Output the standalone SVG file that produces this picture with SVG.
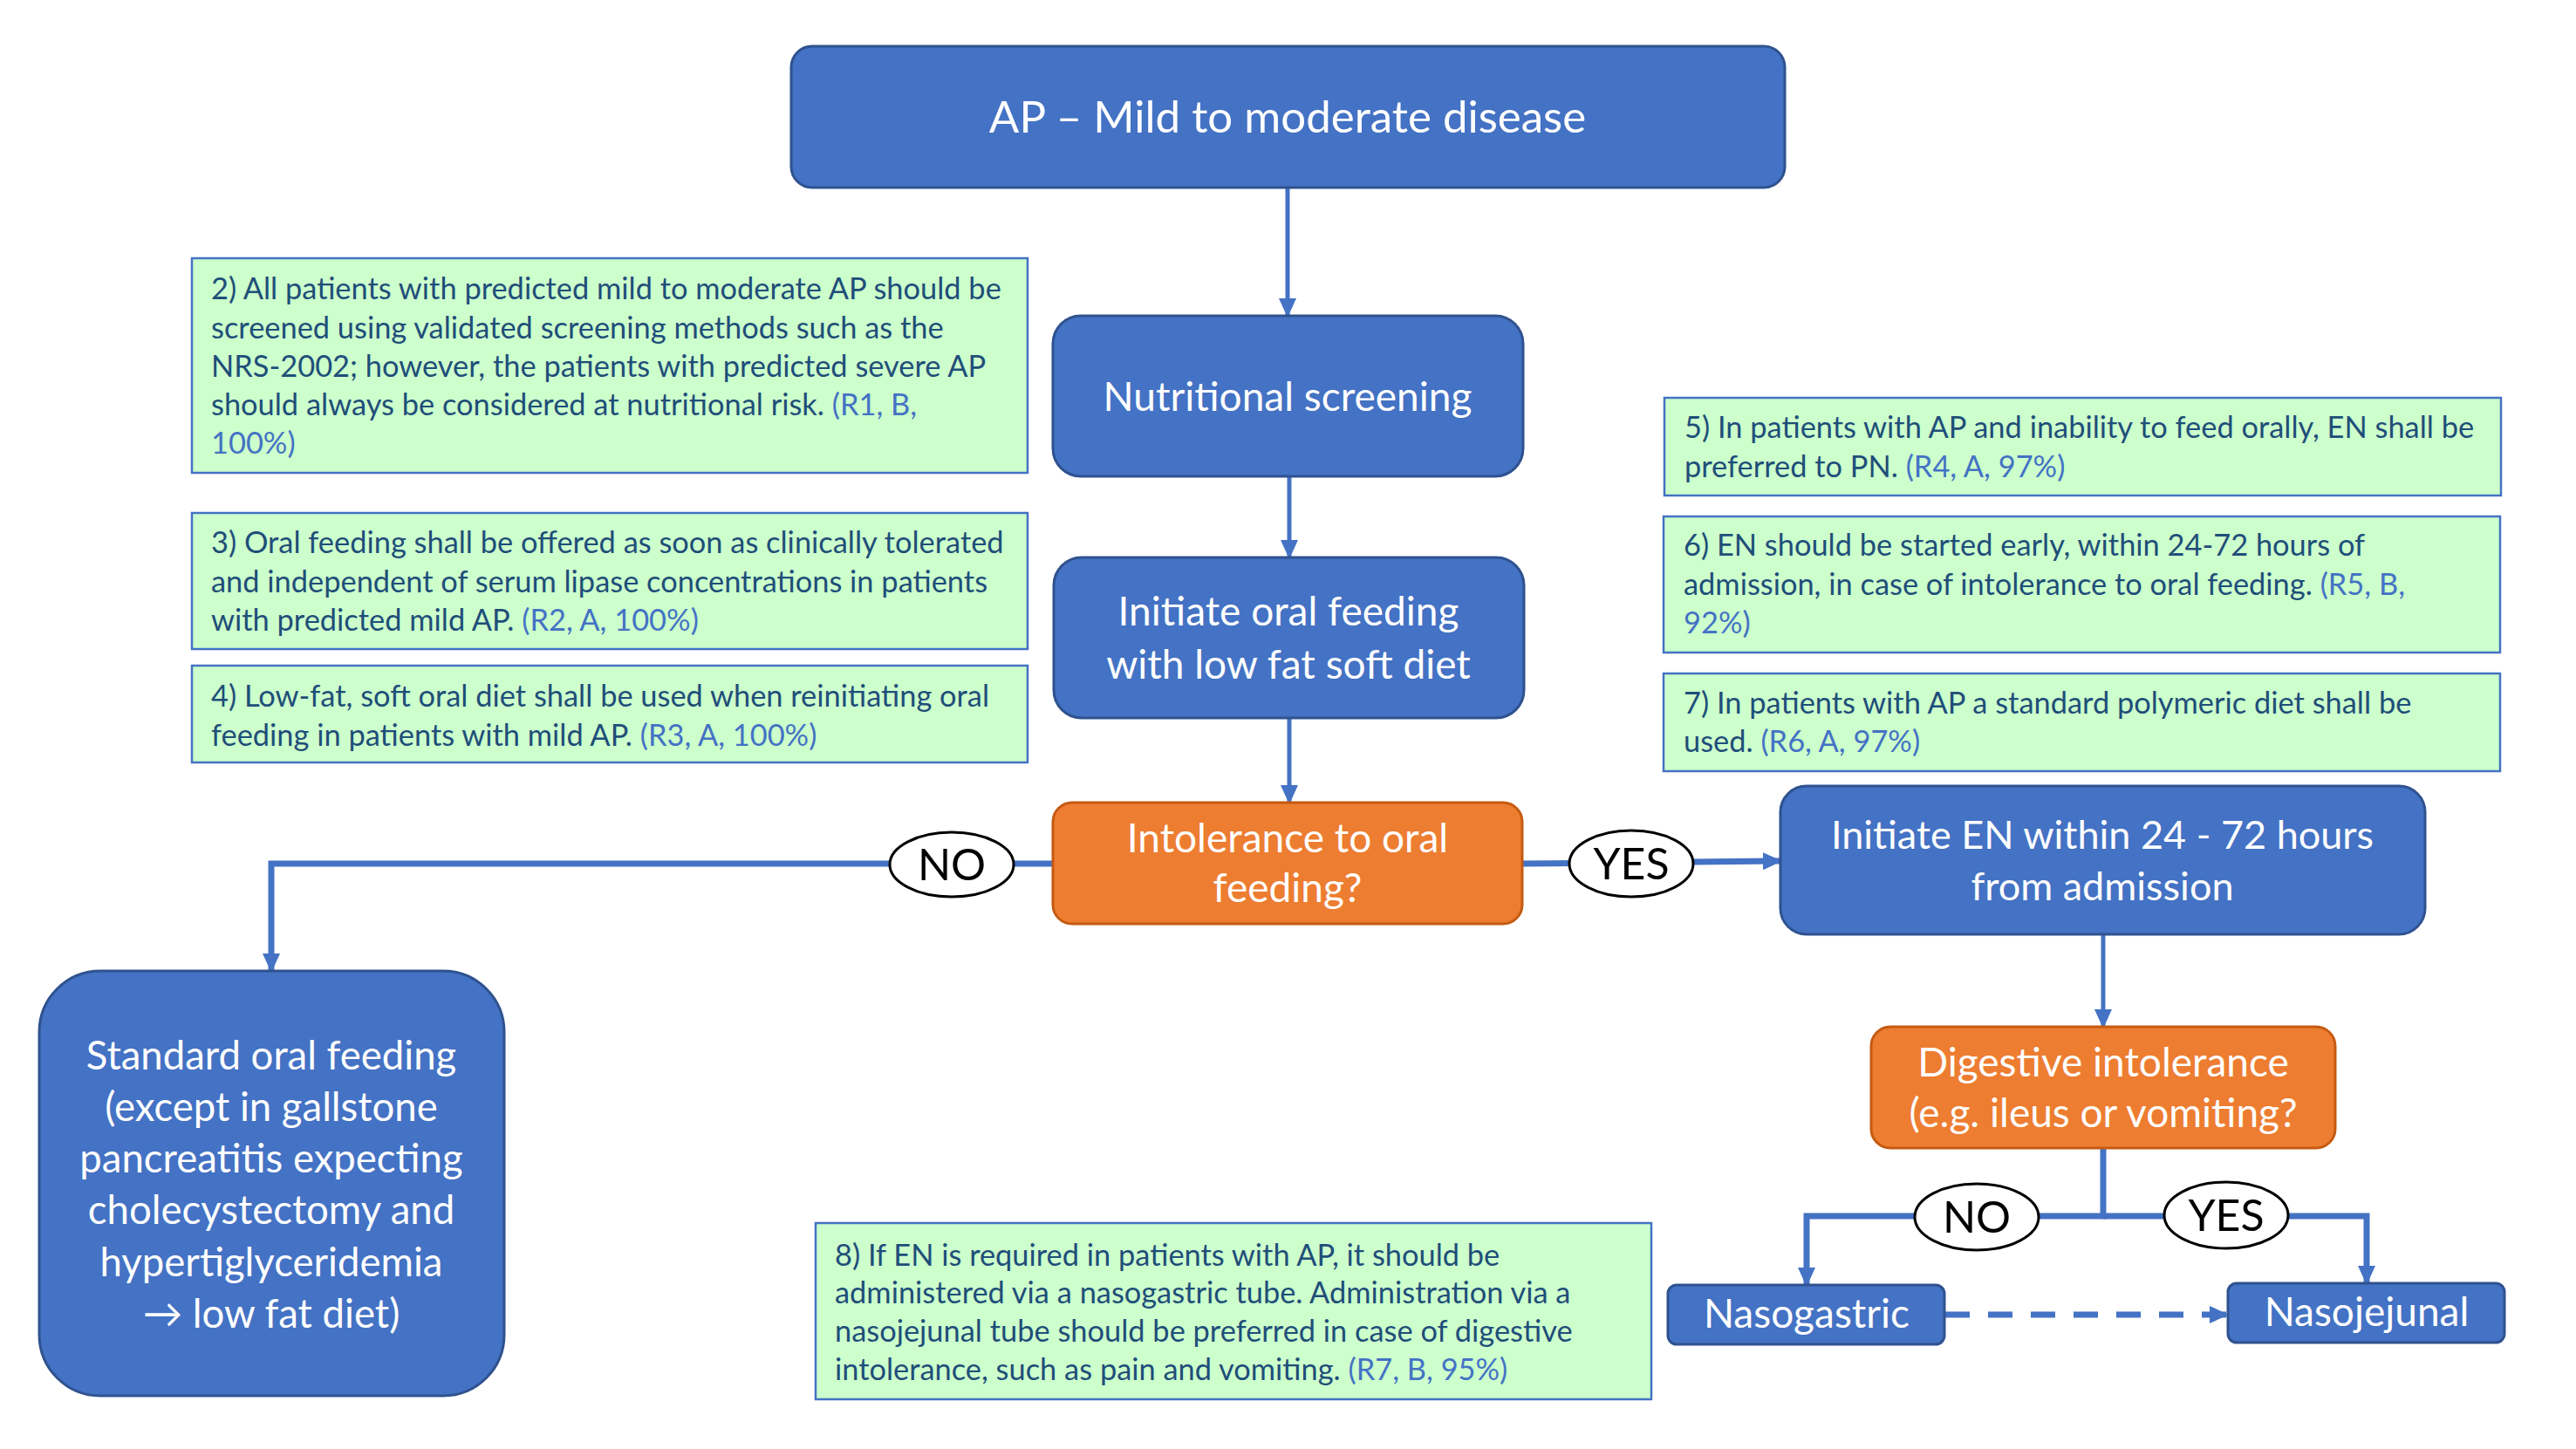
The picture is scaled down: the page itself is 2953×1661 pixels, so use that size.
<svg xmlns="http://www.w3.org/2000/svg" width="2953" height="1661" viewBox="0 0 2953 1661">
<style>
text{font-family:Lato,"Open Sans",sans-serif}
.blue{fill:#4472C4;stroke:#2F528F;stroke-width:3}
.orange{fill:#ED7D31;stroke:#C55A11;stroke-width:3}
.note{fill:#CCFFCC;stroke:#4472C4;stroke-width:2.5}
.bt{fill:#FFFFFF;font-size:46px;text-anchor:middle}
.ht{fill:#FFFFFF;font-size:51px;text-anchor:middle}
.nt{fill:#1F4E79;font-size:34.4px}
.ref{fill:#4472C4}
.lbl{fill:#FFFFFF;stroke:#000000;stroke-width:3}
.lt{fill:#000000;font-size:50px;text-anchor:middle}
.c{fill:none;stroke:#4472C4;stroke-width:7}
.cv{fill:none;stroke:#4472C4;stroke-width:5}
</style>
<defs>
<marker id="ah" markerUnits="userSpaceOnUse" markerWidth="22" markerHeight="22" viewBox="0 0 22 22" refX="20" refY="11" orient="auto">
<path d="M0,1 L22,11 L0,21 Z" fill="#4472C4"/>
</marker>
</defs>
<rect width="2953" height="1661" fill="#FFFFFF"/>

<g id="connectors">
<path class="cv" d="M1476,215 V362" marker-end="url(#ah)"/>
<path class="cv" d="M1478,546 V639" marker-end="url(#ah)"/>
<path class="cv" d="M1478,823 V920" marker-end="url(#ah)"/>
<path class="c" d="M1207,990 H311 V1113" marker-end="url(#ah)"/>
<path class="c" d="M1745,990 L2041,987" marker-end="url(#ah)"/>
<path class="cv" d="M2411,1071 V1177" marker-end="url(#ah)"/>
<path class="c" d="M2411,1316 V1394 H2071 V1473" marker-end="url(#ah)"/>
<path class="c" d="M2411,1394 H2713 V1471" marker-end="url(#ah)"/>
<path class="c" d="M2230,1507 H2553" stroke-dasharray="28 21" marker-end="url(#ah)"/>
</g>

<g id="n-header">
<rect class="blue" x="907" y="53" width="1139" height="162" rx="24"/>
<text class="ht" x="1476" y="152">AP – Mild to moderate disease</text>
</g>

<g id="n-screening">
<rect class="blue" x="1207" y="362" width="539" height="184" rx="32"/>
<text class="bt" x="1476" y="471">Nutritional screening</text>
</g>

<g id="n-oral">
<rect class="blue" x="1208" y="639" width="539" height="184" rx="32"/>
<text class="bt" x="1477" y="717">Initiate oral feeding</text>
<text class="bt" x="1477" y="778">with low fat soft diet</text>
</g>

<g id="n-intolerance">
<rect class="orange" x="1207" y="920" width="538" height="139" rx="22"/>
<text class="bt" x="1476" y="977">Intolerance to oral</text>
<text class="bt" x="1476" y="1034">feeding?</text>
</g>

<g id="n-standard">
<rect class="blue" x="45" y="1113" width="533" height="487" rx="70"/>
<text class="bt" x="311" y="1226" style="font-size:45.5px">Standard oral feeding</text>
<text class="bt" x="311" y="1285" style="font-size:45.5px">(except in gallstone</text>
<text class="bt" x="311" y="1344" style="font-size:45.5px">pancreatitis expecting</text>
<text class="bt" x="311" y="1403" style="font-size:45.5px">cholecystectomy and</text>
<text class="bt" x="311" y="1463" style="font-size:45.5px">hypertiglyceridemia</text>
<text class="bt" x="311" y="1522" style="font-size:45.5px">→ low fat diet)</text>
</g>

<g id="n-en">
<rect class="blue" x="2041" y="901" width="739" height="170" rx="30"/>
<text class="bt" x="2410" y="973" style="font-size:45px">Initiate EN within 24 - 72 hours</text>
<text class="bt" x="2410" y="1032" style="font-size:45px">from admission</text>
</g>

<g id="n-digestive">
<rect class="orange" x="2145" y="1177" width="532" height="139" rx="22"/>
<text class="bt" x="2411" y="1234">Digestive intolerance</text>
<text class="bt" x="2411" y="1292">(e.g. ileus or vomiting?</text>
</g>

<g id="n-nasogastric">
<rect class="blue" x="1912" y="1473" width="317" height="68" rx="10"/>
<text class="bt" x="2071" y="1522">Nasogastric</text>
</g>

<g id="n-nasojejunal">
<rect class="blue" x="2554" y="1471" width="317" height="68" rx="10"/>
<text class="bt" x="2713" y="1520">Nasojejunal</text>
</g>

<g id="l-no1">
<ellipse class="lbl" cx="1091" cy="991" rx="71" ry="37"/>
<text class="lt" x="1091" y="1009">NO</text>
</g>
<g id="l-yes1">
<ellipse class="lbl" cx="1870" cy="990" rx="71" ry="38"/>
<text class="lt" x="1870" y="1008">YES</text>
</g>
<g id="l-no2">
<ellipse class="lbl" cx="2266" cy="1395" rx="71" ry="38"/>
<text class="lt" x="2266" y="1413">NO</text>
</g>
<g id="l-yes2">
<ellipse class="lbl" cx="2552" cy="1393" rx="71" ry="38"/>
<text class="lt" x="2552" y="1411">YES</text>
</g>

<g id="note2">
<rect class="note" x="220" y="296" width="958" height="246"/>
<text class="nt" x="242" y="343">2) All patients with predicted mild to moderate AP should be</text>
<text class="nt" x="242" y="388">screened using validated screening methods such as the</text>
<text class="nt" x="242" y="432">NRS-2002; however, the patients with predicted severe AP</text>
<text class="nt" x="242" y="476">should always be considered at nutritional risk. <tspan class="ref">(R1, B,</tspan></text>
<text class="nt ref" x="242" y="520">100%)</text>
</g>

<g id="note3">
<rect class="note" x="220" y="588" width="958" height="156"/>
<text class="nt" x="242" y="634">3) Oral feeding shall be offered as soon as clinically tolerated</text>
<text class="nt" x="242" y="679">and independent of serum lipase concentrations in patients</text>
<text class="nt" x="242" y="723">with predicted mild AP. <tspan class="ref">(R2, A, 100%)</tspan></text>
</g>

<g id="note4">
<rect class="note" x="220" y="763" width="958" height="111"/>
<text class="nt" x="242" y="810">4) Low-fat, soft oral diet shall be used when reinitiating oral</text>
<text class="nt" x="242" y="855">feeding in patients with mild AP. <tspan class="ref">(R3, A, 100%)</tspan></text>
</g>

<g id="note5">
<rect class="note" x="1908" y="456" width="959" height="112"/>
<text class="nt" x="1931" y="502">5) In patients with AP and inability to feed orally, EN shall be</text>
<text class="nt" x="1931" y="547">preferred to PN. <tspan class="ref">(R4, A, 97%)</tspan></text>
</g>

<g id="note6">
<rect class="note" x="1907" y="592" width="959" height="156"/>
<text class="nt" x="1930" y="637">6) EN should be started early, within 24-72 hours of</text>
<text class="nt" x="1930" y="682">admission, in case of intolerance to oral feeding. <tspan class="ref">(R5, B,</tspan></text>
<text class="nt ref" x="1930" y="726">92%)</text>
</g>

<g id="note7">
<rect class="note" x="1907" y="772" width="959" height="112"/>
<text class="nt" x="1930" y="818">7) In patients with AP a standard polymeric diet shall be</text>
<text class="nt" x="1930" y="862">used. <tspan class="ref">(R6, A, 97%)</tspan></text>
</g>

<g id="note8">
<rect class="note" x="935" y="1402" width="958" height="202"/>
<text class="nt" x="957" y="1451">8) If EN is required in patients with AP, it should be</text>
<text class="nt" x="957" y="1494">administered via a nasogastric tube. Administration via a</text>
<text class="nt" x="957" y="1538">nasojejunal tube should be preferred in case of digestive</text>
<text class="nt" x="957" y="1582">intolerance, such as pain and vomiting. <tspan class="ref">(R7, B, 95%)</tspan></text>
</g>
</svg>
